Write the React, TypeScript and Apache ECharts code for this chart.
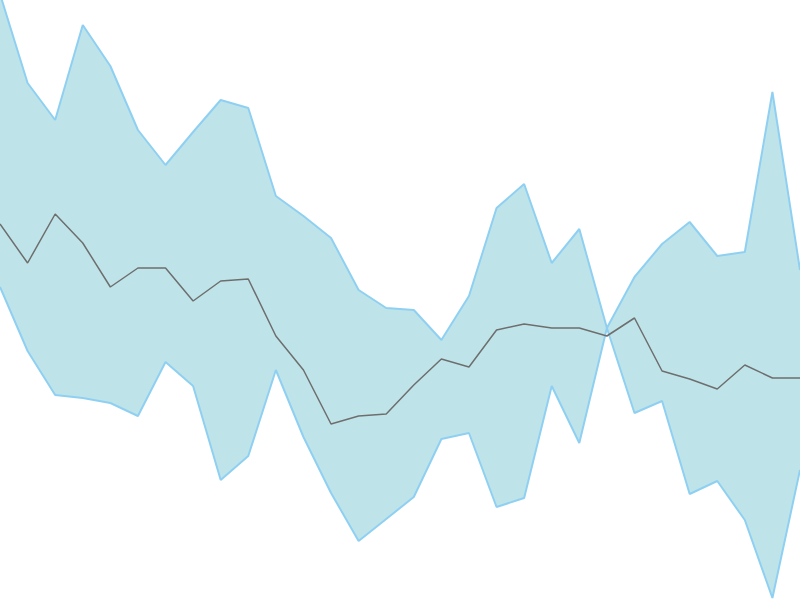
import React, { useEffect, useRef } from 'react'
import * as echarts from 'echarts'

// x positions (30 evenly spaced samples)
const categories: string[] = Array.from({ length: 30 }, (_, i) => String(i + 1))

// (value = 600 - pixel y)
const upperValues = [
    606, 517, 480, 575, 534, 470, 435, 468, 500, 492, 404, 384, 362, 310, 292, 290, 260, 304, 392, 416, 337, 371, 272,
    323, 356, 378, 344, 348, 508, 330,
]
const middleValues = [
    376, 337, 386, 357, 313, 332, 332, 299, 319, 321, 264, 230, 176, 184, 186, 215, 241, 233, 270, 276, 272, 272, 264,
    282, 229, 221, 211, 235, 222, 222,
]
const lowerValues = [
    313, 249, 205, 202, 197, 184, 238, 214, 120, 144, 230, 163, 107, 59, 81, 103, 161, 167, 93, 102, 214, 157, 272, 187,
    199, 106, 119, 80, 2, 130,
]

const BandChart: React.FC = () => {
    const chartRef = useRef(null)

    useEffect(() => {
        const chart = echarts.init(chartRef.current, null, { renderer: 'svg' })

        const bandWidth = upperValues.map((u, i) => u - lowerValues[i])

        const option = {
            animation: false,
            grid: { left: 0, right: 0, top: 0, bottom: 0 },
            xAxis: {
                type: 'category',
                data: categories,
                boundaryGap: false,
                show: false,
            },
            yAxis: {
                type: 'value',
                min: 0,
                max: 600,
                show: false,
            },
            series: [
                {
                    name: 'lower',
                    type: 'line',
                    stack: 'band',
                    data: lowerValues,
                    symbol: 'none',
                    lineStyle: { color: '#8fd0f2', width: 2 },
                },
                {
                    name: 'band',
                    type: 'line',
                    stack: 'band',
                    data: bandWidth,
                    symbol: 'none',
                    lineStyle: { color: '#8fd0f2', width: 2 },
                    areaStyle: { color: '#bee4e9', opacity: 1 },
                },
                {
                    name: 'middle',
                    type: 'line',
                    data: middleValues,
                    symbol: 'none',
                    lineStyle: { color: '#6e6e6e', width: 1.5 },
                    z: 5,
                },
            ],
        }

        chart.setOption(option)

        return () => {
            chart.dispose()
        }
    }, [])

    return <div ref={chartRef} style={{ height: '600px', width: '800px' }} />
}

const App: React.FC = () => {
    useEffect(() => {
        document.body.style.margin = '0'
    }, [])
    return <BandChart />
}

export default App
